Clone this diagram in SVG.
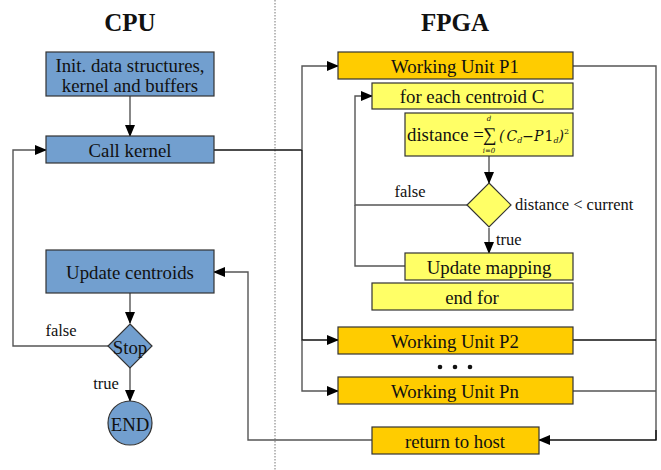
<svg xmlns="http://www.w3.org/2000/svg" width="661" height="470" viewBox="0 0 661 470">
<style>
  text { font-family: "Liberation Serif", "Times New Roman", serif; fill: #111; }
  .title { font-size: 25px; font-weight: bold; text-anchor: middle; }
  .lbl { font-size: 18.8px; text-anchor: middle; dominant-baseline: central; }
  .small { font-size: 16.5px; }
  .blue { fill: #729fcf; stroke: #333; stroke-width: 1.2; }
  .orange { fill: #ffcc00; stroke: #333; stroke-width: 1.2; }
  .yellow { fill: #ffff66; stroke: #333; stroke-width: 1.2; }
  .ln { fill: none; stroke: #555; stroke-width: 1.4; }
  .lnk { fill: none; stroke: #111; stroke-width: 1.4; }
  .math { font-family: "DejaVu Serif", "Liberation Serif", serif; font-style: italic; }
</style>
<defs>
  <marker id="ah" markerWidth="12" markerHeight="10" refX="11" refY="5" orient="auto" markerUnits="userSpaceOnUse">
    <path d="M0,0 L12,5 L0,10 z" fill="#000"/>
  </marker>
</defs>

<line x1="275" y1="0" x2="275" y2="470" stroke="#777" stroke-width="1" stroke-dasharray="1.5,1.5"/>

<text class="title" x="130" y="31">CPU</text>
<text class="title" x="455" y="31">FPGA</text>

<g id="connectors">
  <path class="ln" d="M130,96 V136" marker-end="url(#ah)"/>
  <path class="lnk" d="M214,150 H302"/>
  <path class="ln" d="M302,150 V66 H338" marker-end="url(#ah)"/>
  <path class="lnk" d="M302,150 V340 H338" marker-end="url(#ah)"/>
  <path class="ln" d="M302,340 V391 H338" marker-end="url(#ah)"/>
  <path class="ln" d="M489,156 V183" marker-end="url(#ah)"/>
  <path class="ln" d="M467,205 H355 V96 H372" marker-end="url(#ah)"/>
  <path class="ln" d="M405,266 H355 V205"/>
  <path class="ln" d="M489,228 V253" marker-end="url(#ah)"/>
  <path class="ln" d="M573,66 H656 V440"/>
  <path class="lnk" d="M573,340 H656"/>
  <path class="ln" d="M573,391 H656"/>
  <path class="lnk" d="M656,430 V440 H539" marker-end="url(#ah)"/>
  <path class="ln" d="M372,440 H248 V272 H214" marker-end="url(#ah)"/>
  <path class="ln" d="M130,293 V323" marker-end="url(#ah)"/>
  <path class="ln" d="M109,346 H13 V150 H46" marker-end="url(#ah)"/>
  <path class="ln" d="M130,368 V401" marker-end="url(#ah)"/>
  <text class="small" x="410" y="197" text-anchor="middle">false</text>
  <text class="small" x="515" y="210">distance &lt; current</text>
  <text class="small" x="496" y="245">true</text>
  <text class="small" x="61" y="336" text-anchor="middle">false</text>
  <text class="small" x="106" y="389" text-anchor="middle">true</text>
</g>

<g id="init"><rect class="blue" x="46" y="52" width="168" height="44"/>
  <text class="lbl" x="130" y="65">Init. data structures,</text>
  <text class="lbl" x="130" y="85">kernel and buffers</text></g>
<g id="call"><rect class="blue" x="46" y="136" width="168" height="27"/>
  <text class="lbl" x="130" y="150">Call kernel</text></g>
<g id="update"><rect class="blue" x="46" y="250" width="168" height="43"/>
  <text class="lbl" x="130" y="272">Update centroids</text></g>
<g id="stop"><path class="blue" d="M130,324 L152,346 L130,368 L108,346 z"/>
  <text class="lbl" x="130" y="347">Stop</text></g>
<g id="end"><circle class="blue" cx="130" cy="423" r="22"/>
  <text class="lbl" x="130" y="424">END</text></g>

<g id="p1"><rect class="orange" x="338" y="52" width="235" height="27"/>
  <text class="lbl" x="455" y="66">Working Unit P1</text></g>
<g id="foreach"><rect class="yellow" x="372" y="83" width="201" height="26"/>
  <text class="lbl" x="472" y="96">for each centroid C</text></g>
<g id="distance"><rect class="yellow" x="405" y="113" width="168" height="43"/>
  <text x="407" y="141" style="font-size:18.8px">distance =</text>
  <text x="483" y="141" style="font-size:19px">∑</text>
  <text class="math" x="489" y="121" style="font-size:7px" text-anchor="middle">d</text>
  <text class="math" x="489" y="153" style="font-size:7px" text-anchor="middle">i=0</text>
  <text class="math" x="499" y="141" style="font-size:14px">(<tspan dx="2">C</tspan><tspan font-size="8" dy="2">d</tspan><tspan dy="-2">−</tspan><tspan>P</tspan><tspan font-style="normal" dx="1">1</tspan><tspan font-size="8" dy="2">d</tspan><tspan dy="-2">)</tspan><tspan font-size="8" font-style="normal" dy="-7">2</tspan></text></g>
<g id="cmp"><path class="yellow" d="M489,183 L511,205 L489,227 L467,205 z"/></g>
<g id="mapping"><rect class="yellow" x="405" y="253" width="168" height="27"/>
  <text class="lbl" x="489" y="267">Update mapping</text></g>
<g id="endfor"><rect class="yellow" x="372" y="283" width="201" height="27"/>
  <text class="lbl" x="472" y="297">end for</text></g>
<g id="p2"><rect class="orange" x="338" y="327" width="235" height="27"/>
  <text class="lbl" x="455" y="341">Working Unit P2</text></g>
<g id="dots"><circle cx="440" cy="367" r="2.3" fill="#111"/><circle cx="455" cy="367" r="2.3" fill="#111"/><circle cx="470" cy="367" r="2.3" fill="#111"/></g>
<g id="pn"><rect class="orange" x="338" y="377" width="235" height="27"/>
  <text class="lbl" x="455" y="391">Working Unit Pn</text></g>
<g id="ret"><rect class="orange" x="372" y="427" width="167" height="27"/>
  <text class="lbl" x="455" y="441">return to host</text></g>
</svg>
